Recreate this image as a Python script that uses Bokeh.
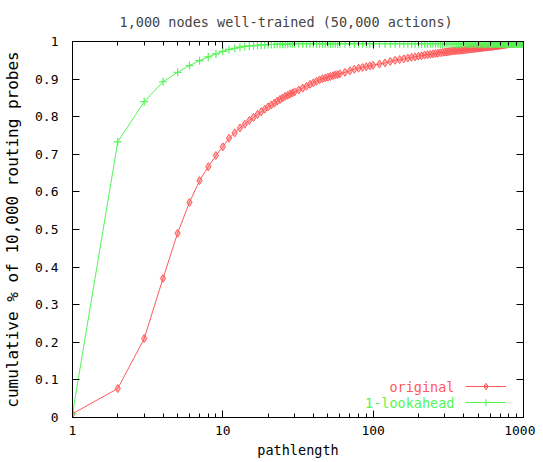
from bokeh.plotting import figure
from bokeh.models import (Range1d, FixedTicker, LinearAxis, LogAxis, Legend, LegendItem,
                          Label, CustomJSTickFormatter)
from bokeh.embed import file_html
from bokeh.resources import INLINE
from bokeh.core.properties import value

TITLE = "1,000 nodes well-trained (50,000 actions)"
X_LABEL = "pathlength"
Y_LABEL = "cumulative % of 10,000 routing probes"
SERIES = ["original", "1-lookahead"]

PATHLENGTH = [
    1, 2, 3, 4, 5, 6, 7, 8, 9, 10,
    11, 12, 13, 14, 15, 16, 17, 18, 19, 20,
    21, 22, 23, 24, 25, 26, 27, 28, 29, 30,
    32, 34, 36, 38, 40, 42, 44, 46, 48, 50, 52, 54, 56, 58, 60,
    65, 70, 75, 80, 85, 90, 95, 100,
    110, 120, 130, 140, 150, 160, 170, 180, 190, 200,
    210, 220, 230, 240, 250, 260, 270, 280, 290, 300,
    310, 320, 330, 340, 350, 360, 370, 380, 390, 400,
    410, 420, 430, 440, 450, 460, 470, 480, 490, 500,
    510, 520, 530, 540, 550, 560, 570, 580, 590, 600,
    610, 620, 630, 640, 650, 660, 670, 680, 690, 700,
    710, 720, 730, 740, 750, 760, 770, 780, 790, 800,
    810, 820, 830, 840, 850, 860, 870, 880, 890, 900,
    910, 920, 930, 940, 950, 960, 970, 980, 990, 1000,
]

ORIGINAL = [
    0.010, 0.077, 0.210, 0.370, 0.490, 0.572, 0.630, 0.667, 0.697, 0.720,
    0.743, 0.757, 0.770, 0.780, 0.790, 0.798, 0.806, 0.813, 0.820, 0.826,
    0.831, 0.836, 0.841, 0.846, 0.850, 0.854, 0.857, 0.860, 0.863, 0.866,
    0.871, 0.876, 0.881, 0.886, 0.890, 0.894, 0.898, 0.901, 0.903, 0.905, 0.907, 0.909, 0.911, 0.912, 0.914,
    0.918, 0.922, 0.926, 0.929, 0.931, 0.933, 0.935, 0.937,
    0.940, 0.943, 0.947, 0.950, 0.952, 0.954, 0.956, 0.958, 0.959, 0.961,
    0.962, 0.964, 0.965, 0.966, 0.967, 0.968, 0.969, 0.970, 0.971, 0.972,
    0.972, 0.973, 0.974, 0.975, 0.975, 0.976, 0.976, 0.977, 0.977, 0.978,
    0.978, 0.979, 0.979, 0.980, 0.980, 0.981, 0.981, 0.982, 0.982, 0.983,
    0.983, 0.983, 0.984, 0.984, 0.985, 0.985, 0.985, 0.986, 0.986, 0.986,
    0.987, 0.987, 0.987, 0.988, 0.988, 0.988, 0.989, 0.989, 0.990, 0.990,
    0.990, 0.991, 0.991, 0.992, 0.992, 0.992, 0.993, 0.993, 0.993, 0.994,
    0.994, 0.994, 0.995, 0.995, 0.995, 0.995, 0.996, 0.996, 0.996, 0.997,
    0.997, 0.997, 0.998, 0.998, 0.998, 0.998, 0.999, 0.999, 0.999, 1.000,
]

LOOKAHEAD = [
    0.010, 0.733, 0.840, 0.893, 0.918, 0.936, 0.949, 0.959, 0.967, 0.974,
    0.979, 0.982, 0.985, 0.987, 0.988, 0.989, 0.990, 0.991, 0.991, 0.992,
    0.992, 0.992, 0.993, 0.993, 0.993, 0.993, 0.993, 0.994, 0.994, 0.994,
    0.994, 0.994, 0.994, 0.994, 0.994, 0.994, 0.994, 0.994, 0.994, 0.994, 0.994, 0.994, 0.994, 0.994, 0.994,
    0.994, 0.994, 0.994, 0.994, 0.994, 0.994, 0.994, 0.994,
    0.994, 0.994, 0.994, 0.994, 0.994, 0.994, 0.994, 0.994, 0.994, 0.994,
    0.994, 0.994, 0.994, 0.994, 0.994, 0.994, 0.994, 0.994, 0.994, 0.994,
    0.994, 0.994, 0.994, 0.994, 0.994, 0.994, 0.994, 0.994, 0.994, 0.994,
    0.994, 0.994, 0.994, 0.994, 0.994, 0.994, 0.994, 0.994, 0.994, 0.994,
    0.994, 0.994, 0.994, 0.994, 0.994, 0.994, 0.994, 0.994, 0.994, 0.994,
    0.994, 0.994, 0.994, 0.994, 0.994, 0.994, 0.994, 0.994, 0.994, 0.994,
    0.994, 0.994, 0.994, 0.994, 0.994, 0.994, 0.994, 0.994, 0.994, 0.994,
    0.994, 0.994, 0.994, 0.994, 0.994, 0.994, 0.994, 0.994, 0.994, 0.994,
    0.994, 0.994, 0.994, 0.994, 0.994, 0.994, 0.994, 0.994, 0.994, 0.995,
]

X_MAJOR = [1, 10, 100, 1000]
X_MINOR = [2, 3, 4, 5, 6, 7, 8, 9, 20, 30, 40, 50, 60, 70, 80, 90,
           200, 300, 400, 500, 600, 700, 800, 900]
Y_TICKS = [0, 0.1, 0.2, 0.3, 0.4, 0.5, 0.6, 0.7, 0.8, 0.9, 1]

FONT = "DejaVu Sans Mono"
RED = "#ff5a5a"
GREEN = "#55f555"

p = figure(width=535, frame_height=376, x_axis_type="log",
           x_range=Range1d(1, 1000), y_range=Range1d(0, 1),
           output_backend="svg", toolbar_location=None, title=TITLE,
           min_border_left=68, min_border_right=12, min_border_top=41, min_border_bottom=43)
p.background_fill_color = "white"
p.border_fill_color = "white"
p.grid.visible = False
p.outline_line_color = "black"

p.title.text_font = FONT
p.title.text_font_size = "13.5px"
p.title.text_font_style = "normal"
p.title.align = "left"
p.title.offset = 47
p.title.standoff = 23


def style_axis(ax):
    ax.axis_line_color = "black"
    ax.major_tick_line_color = "black"
    ax.minor_tick_line_color = "black"
    ax.major_tick_in = 7
    ax.major_tick_out = 0
    ax.minor_tick_in = 4
    ax.minor_tick_out = 0
    ax.major_label_text_font = FONT
    ax.major_label_text_font_size = "13px"
    ax.major_label_text_color = "black"
    ax.axis_label_text_font = FONT
    ax.axis_label_text_font_style = "normal"
    ax.axis_label_text_color = "black"


xt = FixedTicker(ticks=X_MAJOR, minor_ticks=X_MINOR)
yt = FixedTicker(ticks=Y_TICKS)

xa = p.xaxis[0]
xa.ticker = xt
style_axis(xa)
xa.major_label_overrides = {t: str(t) for t in X_MAJOR}
xa.major_label_standoff = 8
xa.axis_label = X_LABEL
xa.axis_label_text_font_size = "13.5px"
xa.axis_label_standoff = 4

ya = p.yaxis[0]
ya.ticker = yt
style_axis(ya)
ya.minor_tick_line_color = None
ya.major_label_overrides = {0: "0", 1: "1"}
ya.major_label_standoff = 14
ya.axis_label = Y_LABEL
ya.axis_label_text_font_size = "16px"
ya.axis_label_standoff = 10

top = LogAxis(ticker=xt, formatter=CustomJSTickFormatter(code="return ''"))
style_axis(top)
top.major_label_standoff = 0
top.major_label_text_font_size = "0px"
p.add_layout(top, "above")
right = LinearAxis(ticker=yt, formatter=CustomJSTickFormatter(code="return ''"))
style_axis(right)
right.minor_tick_line_color = None
right.major_label_standoff = 0
right.major_label_text_font_size = "0px"
p.add_layout(right, "right")

r_line = p.line(PATHLENGTH, ORIGINAL, line_color=RED, line_width=1)
r_pts = p.scatter(PATHLENGTH, ORIGINAL, marker="diamond", size=8,
                  fill_color=RED, fill_alpha=0.45, line_color=RED, line_width=1)
g_line = p.line(PATHLENGTH, LOOKAHEAD, line_color=GREEN, line_width=1)
g_pts = p.scatter(PATHLENGTH, LOOKAHEAD, marker="cross", size=8,
                  line_color=GREEN, line_width=1.2)

legend = Legend(items=[LegendItem(label=value(" "), renderers=[r_line, r_pts]),
                       LegendItem(label=value(" "), renderers=[g_line, g_pts])],
                location=(393, 7), orientation="vertical",
                glyph_width=41, glyph_height=16, label_height=16, label_width=0,
                label_standoff=0, padding=0, spacing=0, margin=0,
                border_line_color=None, background_fill_alpha=0)
p.add_layout(legend)

for text, color, yy in [(SERIES[0], RED, 31), (SERIES[1], GREEN, 15)]:
    p.add_layout(Label(x=382, y=yy, x_units="screen", y_units="screen", text=text,
                       text_align="right", text_baseline="middle", text_color=color,
                       text_font=FONT, text_font_size="13.5px"))

open("out.html", "w").write(file_html(p, INLINE))
